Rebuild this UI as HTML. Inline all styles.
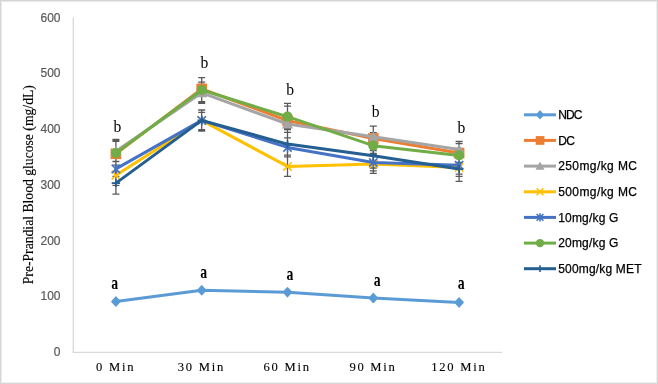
<!DOCTYPE html>
<html><head><meta charset="utf-8"><style>
html,body{margin:0;padding:0;background:#fff;}
body{width:658px;height:384px;overflow:hidden;position:relative;}
svg{position:absolute;left:0;top:0;will-change:transform;}
.ab{font-family:"Liberation Serif",serif;font-size:17px;fill:#000;}
.b{font-weight:bold;font-size:16px;}
.yl{font-family:"Liberation Sans",sans-serif;font-size:12px;fill:#595959;stroke:#595959;stroke-width:0.2px;}
.xl{font-family:"Liberation Serif",serif;font-size:12.6px;fill:#000;letter-spacing:1.75px;stroke:#000;stroke-width:0.12px;}
.yt{font-family:"Liberation Serif",serif;font-size:13.67px;fill:#000;stroke:#000;stroke-width:0.15px;}
.lg{font-family:"Liberation Sans",sans-serif;font-size:12px;fill:#000;stroke:#000;stroke-width:0.25px;}
</style></head><body>
<svg width="658" height="384" viewBox="0 0 658 384">
<rect x="0" y="0" width="658" height="1" fill="#D4D4D4"/><rect x="0" y="1" width="658" height="1" fill="#E8E8E8"/><rect x="0" y="383" width="658" height="1" fill="#D6D6D6"/><rect x="0" y="382" width="658" height="1" fill="#EFEFEF"/><rect x="0" y="0" width="1" height="384" fill="#D6D6D6"/><rect x="1" y="1" width="1" height="382" fill="#EBEBEB"/><rect x="657" y="0" width="1" height="384" fill="#D8D8D8"/><rect x="656" y="1" width="1" height="382" fill="#EFEFEF"/><path d="M73.3,17.5V352.4H502.0" stroke="#D9D9D9" stroke-width="1.3" fill="none"/>
<path d="M115.9,141.3V161.3M112.4,141.3H119.4M112.4,161.3H119.4M201.7,77.7V101.7M198.2,77.7H205.2M198.2,101.7H205.2M287.5,106.1V132.3M284.0,106.1H291.0M284.0,132.3H291.0M373.3,126.2V150.7M369.8,126.2H376.8M369.8,150.7H376.8M459.1,141.3V162.4M455.6,141.3H462.6M455.6,162.4H462.6M115.9,139.3V161.3M112.4,139.3H119.4M112.4,161.3H119.4M201.7,84.4V102.8M198.2,84.4H205.2M198.2,102.8H205.2M287.5,106.1V132.3M284.0,106.1H291.0M284.0,132.3H291.0M373.3,132.6V141.0M369.8,132.6H376.8M369.8,141.0H376.8M459.1,143.5V156.9M455.6,143.5H462.6M455.6,156.9H462.6M115.9,165.2V185.3M112.4,165.2H119.4M112.4,185.3H119.4M201.7,110.0V129.6M198.2,110.0H205.2M198.2,129.6H205.2M287.5,155.2V176.4M284.0,155.2H291.0M284.0,176.4H291.0M373.3,154.6V173.3M369.8,154.6H376.8M369.8,173.3H376.8M459.1,158.0V176.4M455.6,158.0H462.6M455.6,176.4H462.6M115.9,161.6V176.4M112.4,161.6H119.4M112.4,176.4H119.4M201.7,112.3V131.2M198.2,112.3H205.2M198.2,131.2H205.2M287.5,137.9V156.9M284.0,137.9H291.0M284.0,156.9H291.0M373.3,153.5V170.8M369.8,153.5H376.8M369.8,170.8H376.8M459.1,155.8V174.2M455.6,155.8H462.6M455.6,174.2H462.6M115.9,140.7V161.3M112.4,140.7H119.4M112.4,161.3H119.4M201.7,82.2V103.4M198.2,82.2H205.2M198.2,103.4H205.2M287.5,103.4V129.6M284.0,103.4H291.0M284.0,129.6H291.0M373.3,137.9V153.5M369.8,137.9H376.8M369.8,153.5H376.8M459.1,143.5V164.7M455.6,143.5H462.6M455.6,164.7H462.6M115.9,171.9V194.2M112.4,171.9H119.4M112.4,194.2H119.4M201.7,110.0V130.1M198.2,110.0H205.2M198.2,130.1H205.2M287.5,128.4V155.2M284.0,128.4H291.0M284.0,155.2H291.0M373.3,146.8V168.0M369.8,146.8H376.8M369.8,168.0H376.8M459.1,158.0V181.4M455.6,158.0H462.6M455.6,181.4H462.6" stroke="#595959" stroke-width="1.3" fill="none"/>
<polyline points="115.9,301.6 201.7,290.3 287.5,292.2 373.3,298.1 459.1,302.4" fill="none" stroke="#5B9BD5" stroke-width="3" stroke-linejoin="round" stroke-linecap="round"/>
<path d="M115.9,297.0 L120.1,301.6 L115.9,306.2 L111.7,301.6Z" fill="#5B9BD5" stroke="#5B9BD5" stroke-width="1.2" stroke-linejoin="round"/>
<path d="M201.7,285.7 L205.9,290.3 L201.7,294.9 L197.5,290.3Z" fill="#5B9BD5" stroke="#5B9BD5" stroke-width="1.2" stroke-linejoin="round"/>
<path d="M287.5,287.6 L291.7,292.2 L287.5,296.8 L283.3,292.2Z" fill="#5B9BD5" stroke="#5B9BD5" stroke-width="1.2" stroke-linejoin="round"/>
<path d="M373.3,293.5 L377.5,298.1 L373.3,302.7 L369.1,298.1Z" fill="#5B9BD5" stroke="#5B9BD5" stroke-width="1.2" stroke-linejoin="round"/>
<path d="M459.1,297.8 L463.3,302.4 L459.1,307.0 L454.9,302.4Z" fill="#5B9BD5" stroke="#5B9BD5" stroke-width="1.2" stroke-linejoin="round"/>
<polyline points="115.9,153.8 201.7,88.9 287.5,120.6 373.3,138.5 459.1,153.0" fill="none" stroke="#ED7D31" stroke-width="3" stroke-linejoin="round" stroke-linecap="round"/>
<rect x="110.6" y="148.5" width="10.6" height="10.6" fill="#ED7D31"/>
<rect x="196.4" y="83.6" width="10.6" height="10.6" fill="#ED7D31"/>
<rect x="282.2" y="115.3" width="10.6" height="10.6" fill="#ED7D31"/>
<rect x="368.0" y="133.2" width="10.6" height="10.6" fill="#ED7D31"/>
<rect x="453.8" y="147.7" width="10.6" height="10.6" fill="#ED7D31"/>
<polyline points="115.9,151.3 201.7,92.8 287.5,124.0 373.3,136.8 459.1,149.6" fill="none" stroke="#A5A5A5" stroke-width="3" stroke-linejoin="round" stroke-linecap="round"/>
<path d="M115.9,145.8 L121.4,155.7 L110.4,155.7Z" fill="#A5A5A5"/>
<path d="M201.7,87.3 L207.2,97.2 L196.2,97.2Z" fill="#A5A5A5"/>
<path d="M287.5,118.5 L293.0,128.4 L282.0,128.4Z" fill="#A5A5A5"/>
<path d="M373.3,131.3 L378.8,141.2 L367.8,141.2Z" fill="#A5A5A5"/>
<path d="M459.1,144.1 L464.6,154.0 L453.6,154.0Z" fill="#A5A5A5"/>
<polyline points="115.9,175.3 201.7,120.4 287.5,166.4 373.3,164.1 459.1,167.5" fill="none" stroke="#FFC000" stroke-width="3" stroke-linejoin="round" stroke-linecap="round"/>
<path d="M111.7,171.1 L120.1,179.5 M120.1,171.1 L111.7,179.5" stroke="#FFC000" stroke-width="1.6" fill="none"/>
<path d="M197.5,116.2 L205.9,124.6 M205.9,116.2 L197.5,124.6" stroke="#FFC000" stroke-width="1.6" fill="none"/>
<path d="M283.3,162.2 L291.7,170.6 M291.7,162.2 L283.3,170.6" stroke="#FFC000" stroke-width="1.6" fill="none"/>
<path d="M369.1,159.9 L377.5,168.3 M377.5,159.9 L369.1,168.3" stroke="#FFC000" stroke-width="1.6" fill="none"/>
<path d="M454.9,163.3 L463.3,171.7 M463.3,163.3 L454.9,171.7" stroke="#FFC000" stroke-width="1.6" fill="none"/>
<polyline points="115.9,168.9 201.7,120.4 287.5,147.4 373.3,162.4 459.1,165.2" fill="none" stroke="#4472C4" stroke-width="3" stroke-linejoin="round" stroke-linecap="round"/>
<path d="M111.7,164.7 L120.1,173.1 M120.1,164.7 L111.7,173.1 M115.9,163.9 L115.9,173.9" stroke="#4472C4" stroke-width="1.6" fill="none"/>
<path d="M197.5,116.2 L205.9,124.6 M205.9,116.2 L197.5,124.6 M201.7,115.4 L201.7,125.4" stroke="#4472C4" stroke-width="1.6" fill="none"/>
<path d="M283.3,143.2 L291.7,151.6 M291.7,143.2 L283.3,151.6 M287.5,142.4 L287.5,152.4" stroke="#4472C4" stroke-width="1.6" fill="none"/>
<path d="M369.1,158.2 L377.5,166.6 M377.5,158.2 L369.1,166.6 M373.3,157.4 L373.3,167.4" stroke="#4472C4" stroke-width="1.6" fill="none"/>
<path d="M454.9,161.0 L463.3,169.4 M463.3,161.0 L454.9,169.4 M459.1,160.2 L459.1,170.2" stroke="#4472C4" stroke-width="1.6" fill="none"/>
<polyline points="115.9,153.0 201.7,90.0 287.5,116.7 373.3,145.7 459.1,155.4" fill="none" stroke="#70AD47" stroke-width="3" stroke-linejoin="round" stroke-linecap="round"/>
<circle cx="115.9" cy="153.0" r="5.10" fill="#70AD47"/>
<circle cx="201.7" cy="90.0" r="5.10" fill="#70AD47"/>
<circle cx="287.5" cy="116.7" r="5.10" fill="#70AD47"/>
<circle cx="373.3" cy="145.7" r="5.10" fill="#70AD47"/>
<circle cx="459.1" cy="155.4" r="5.10" fill="#70AD47"/>
<polyline points="115.9,183.1 201.7,120.4 287.5,144.1 373.3,155.8 459.1,169.1" fill="none" stroke="#255E91" stroke-width="3" stroke-linejoin="round" stroke-linecap="round"/>
<path d="M115.9,178.9 L115.9,187.3 M111.7,183.1 L120.1,183.1" stroke="#255E91" stroke-width="1.6" fill="none"/>
<path d="M201.7,116.2 L201.7,124.6 M197.5,120.4 L205.9,120.4" stroke="#255E91" stroke-width="1.6" fill="none"/>
<path d="M287.5,139.9 L287.5,148.3 M283.3,144.1 L291.7,144.1" stroke="#255E91" stroke-width="1.6" fill="none"/>
<path d="M373.3,151.6 L373.3,160.0 M369.1,155.8 L377.5,155.8" stroke="#255E91" stroke-width="1.6" fill="none"/>
<path d="M459.1,164.9 L459.1,173.3 M454.9,169.1 L463.3,169.1" stroke="#255E91" stroke-width="1.6" fill="none"/>
<text transform="translate(117.3,131.7) scale(0.92,1)" text-anchor="middle" class="ab">b</text>
<text transform="translate(204.5,67.8) scale(0.92,1)" text-anchor="middle" class="ab">b</text>
<text transform="translate(290.2,94.9) scale(0.92,1)" text-anchor="middle" class="ab">b</text>
<text transform="translate(375.6,116.7) scale(0.92,1)" text-anchor="middle" class="ab">b</text>
<text transform="translate(461.4,132.7) scale(0.92,1)" text-anchor="middle" class="ab">b</text>
<text transform="translate(114.8,288.6) scale(0.86,1.12)" text-anchor="middle" class="ab b">a</text>
<text transform="translate(203.8,277.7) scale(0.86,1.12)" text-anchor="middle" class="ab b">a</text>
<text transform="translate(290.0,279.8) scale(0.86,1.12)" text-anchor="middle" class="ab b">a</text>
<text transform="translate(377.3,285.5) scale(0.86,1.12)" text-anchor="middle" class="ab b">a</text>
<text transform="translate(461.1,289.0) scale(0.86,1.12)" text-anchor="middle" class="ab b">a</text>
<text x="60.5" y="356.0" text-anchor="end" class="yl">0</text>
<text x="60.5" y="300.2" text-anchor="end" class="yl">100</text>
<text x="60.5" y="244.5" text-anchor="end" class="yl">200</text>
<text x="60.5" y="188.8" text-anchor="end" class="yl">300</text>
<text x="60.5" y="133.0" text-anchor="end" class="yl">400</text>
<text x="60.5" y="77.2" text-anchor="end" class="yl">500</text>
<text x="60.5" y="21.5" text-anchor="end" class="yl">600</text>
<text x="115.6" y="370.8" text-anchor="middle" class="xl">0 Min</text>
<text x="201.4" y="370.8" text-anchor="middle" class="xl">30 Min</text>
<text x="287.2" y="370.8" text-anchor="middle" class="xl">60 Min</text>
<text x="373.0" y="370.8" text-anchor="middle" class="xl">90 Min</text>
<text x="458.8" y="370.8" text-anchor="middle" class="xl">120 Min</text>
<text transform="translate(33.0,184.7) rotate(-90)" text-anchor="middle" class="yt">Pre-Prandial Blood glucose (mg/dL)</text>
<line x1="524" y1="114.8" x2="556" y2="114.8" stroke="#5B9BD5" stroke-width="3"/>
<path d="M540.0,111.0 L543.5,114.8 L540.0,118.6 L536.5,114.8Z" fill="#5B9BD5" stroke="#5B9BD5" stroke-width="1.2" stroke-linejoin="round"/>
<text x="558.2" y="119.1" class="lg" style="letter-spacing:-0.85px">NDC</text>
<line x1="524" y1="140.4" x2="556" y2="140.4" stroke="#ED7D31" stroke-width="3"/>
<rect x="535.7" y="136.1" width="8.7" height="8.7" fill="#ED7D31"/>
<text x="558.2" y="144.8" class="lg" style="letter-spacing:-0.6px">DC</text>
<line x1="524" y1="166.1" x2="556" y2="166.1" stroke="#A5A5A5" stroke-width="3"/>
<path d="M540.0,161.6 L544.5,169.7 L535.5,169.7Z" fill="#A5A5A5"/>
<text x="558.2" y="170.4" class="lg" style="letter-spacing:0.41px">250mg/kg MC</text>
<line x1="524" y1="191.8" x2="556" y2="191.8" stroke="#FFC000" stroke-width="3"/>
<path d="M536.6,188.3 L543.4,195.2 M543.4,188.3 L536.6,195.2" stroke="#FFC000" stroke-width="1.6" fill="none"/>
<text x="558.2" y="196.1" class="lg" style="letter-spacing:0.41px">500mg/kg MC</text>
<line x1="524" y1="217.4" x2="556" y2="217.4" stroke="#4472C4" stroke-width="3"/>
<path d="M536.6,214.0 L543.4,220.8 M543.4,214.0 L536.6,220.8 M540.0,213.2 L540.0,221.6" stroke="#4472C4" stroke-width="1.6" fill="none"/>
<text x="558.2" y="221.7" class="lg" style="letter-spacing:0.19px">10mg/kg G</text>
<line x1="524" y1="243.1" x2="556" y2="243.1" stroke="#70AD47" stroke-width="3"/>
<circle cx="540.0" cy="243.1" r="4.18" fill="#70AD47"/>
<text x="558.2" y="247.4" class="lg" style="letter-spacing:0.19px">20mg/kg G</text>
<line x1="524" y1="268.7" x2="556" y2="268.7" stroke="#255E91" stroke-width="3"/>
<path d="M540.0,265.3 L540.0,272.1 M536.6,268.7 L543.4,268.7" stroke="#255E91" stroke-width="1.6" fill="none"/>
<text x="558.2" y="273.0" class="lg" style="letter-spacing:0.18px">500mg/kg MET</text>
</svg>
</body></html>
